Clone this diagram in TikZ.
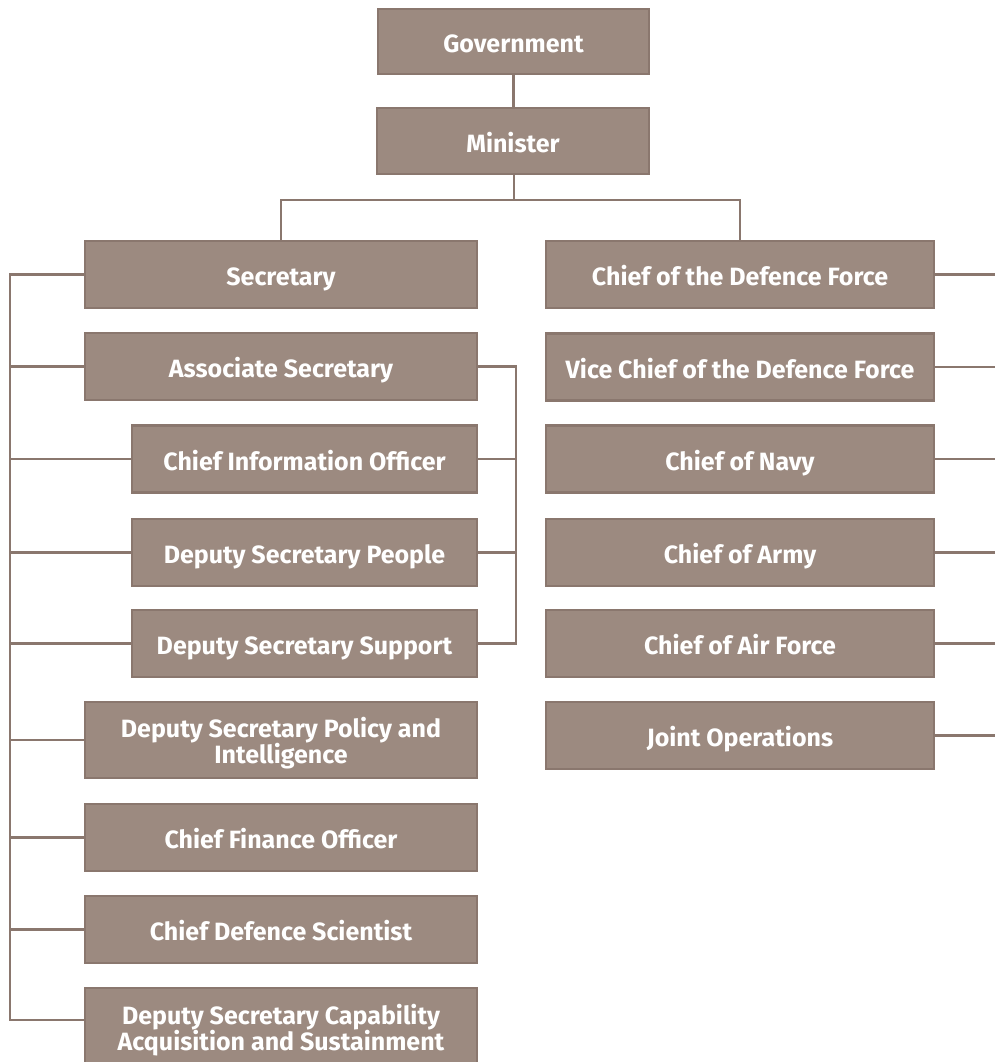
\documentclass[tikz,border=0pt]{standalone}
\usepackage{fontspec}
\setmainfont{Fira Sans}
\usepackage{tikz}
\definecolor{boxfill}{HTML}{9C8A80}
\definecolor{boxedge}{HTML}{8A776E}
\begin{document}
\begin{tikzpicture}[x=1pt,y=-1pt,
  post/.style={draw=boxedge,fill=boxfill,line width=2.5pt,text=white,
    font=\bfseries\fontsize{25}{26}\selectfont,align=center,inner sep=0pt,
    minimum height=67pt,text height=24pt,text depth=2pt},
  wide/.style={post,minimum width=392pt},
  narrow/.style={post,minimum width=345pt},
  right/.style={post,minimum width=388pt},
  twoline/.style={text height=47pt,text depth=0pt},
  link/.style={draw=boxedge,line width=2.5pt}]
  \useasboundingbox (0,0) rectangle (994,1062);
  \node [post,minimum width=271pt,minimum height=65pt] (gov) at (513.5,41.5) {Government};
  \node [post,minimum width=272pt,minimum height=66pt] (min) at (513,141) {Minister};
  \node [wide] (sec) at (281,274.5) {Secretary};
  \node [wide] (assoc) at (281,366.5) {Associate Secretary};
  \node [narrow] (cio) at (304.5,459) {Chief Information Officer};
  \node [narrow] (dsp) at (304.5,552.5) {Deputy Secretary People};
  \node [narrow] (dss) at (304.5,643.5) {Deputy Secretary Support};
  \node [wide,twoline,minimum height=76pt] (dspi) at (281,740) {Deputy Secretary Policy and\\Intelligence};
  \node [wide] (cfo) at (281,837.5) {Chief Finance Officer};
  \node [wide] (cds) at (281,929.5) {Chief Defence Scientist};
  \node [wide,twoline,minimum height=78pt] (dscap) at (281,1027) {Deputy Secretary Capability\\Acquisition and Sustainment};
  \node [right] (cdf) at (740,274.5) {Chief of the Defence Force};
  \node [right] (vcdf) at (740,367) {Vice Chief of the Defence Force};
  \node [right] (navy) at (740,459) {Chief of Navy};
  \node [right] (army) at (740,552.5) {Chief of Army};
  \node [right] (raaf) at (740,643.5) {Chief of Air Force};
  \node [right] (jops) at (740,735.5) {Joint Operations};
  \coordinate (lbus) at (10,0);
  \coordinate (mbus) at (516,0);
  \coordinate (rbus) at (996,0);
  \coordinate (split) at (514,200);
  \coordinate (capin) at (85,1020);
  \path [link] (gov.south) -- (gov.south |- min.north);
  \path [link] (min.south -| split) -- (split);
  \path [link] (sec.north) |- (split) -| (cdf.north);
  \path [link] (sec.west) -| (capin -| lbus) -- (capin);
  \foreach \n in {assoc,cio,dsp,dss,dspi,cfo,cds}
    \path [link] (\n.west) -- (\n.west -| lbus);
  \path [link] (assoc.east) -| (dss.east -| mbus) -- (dss.east);
  \foreach \n in {cio,dsp}
    \path [link] (\n.east) -- (\n.east -| mbus);
  \foreach \n in {cdf,vcdf,navy,army,raaf,jops}
    \path [link] (\n.east) -- (\n.east -| rbus);
\end{tikzpicture}
\end{document}
